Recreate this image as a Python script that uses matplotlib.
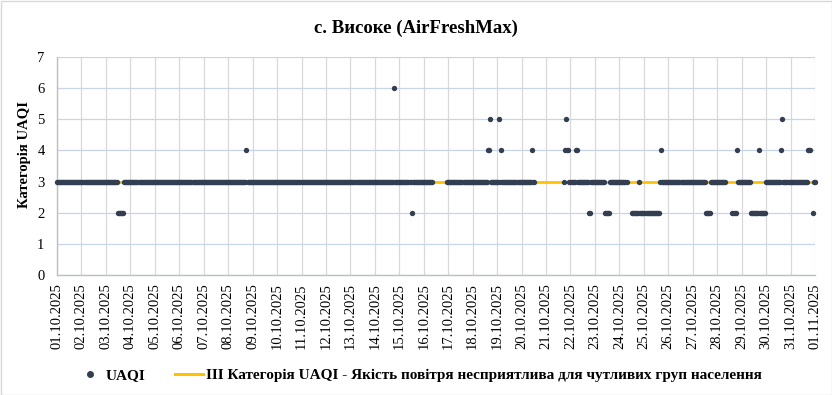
import matplotlib
matplotlib.use("Agg")
import matplotlib.dates as mdates
import matplotlib.pyplot as plt
import numpy as np
import pandas as pd
from matplotlib.lines import Line2D
from matplotlib.patches import Rectangle

START = "2025-10-01 00:00"
END = "2025-11-01 00:00"

# hourly UAQI category, as runs (first hour, last hour, category);
# hours are counted from 01.10.2025 00:00, hours not covered by a run had no data
RUN_FIRST = [0, 60, 66, 186, 187, 331, 332, 348, 349,
             383, 423, 425, 426, 434, 435, 436, 437, 466, 467,
             498, 499, 500, 501, 503, 509, 511, 522, 524, 538, 543,
             564, 571, 572, 578, 592, 593, 594, 637, 642,
             663, 667, 668, 681, 689, 690, 696, 711, 712, 713, 737,
             742, 743]
RUN_LAST = [59, 65, 185, 186, 330, 331, 347, 348, 368,
            422, 424, 425, 433, 434, 435, 436, 465, 466, 468,
            498, 499, 500, 502, 508, 510, 521, 523, 537, 542, 559,
            570, 571, 576, 591, 592, 593, 636, 641, 656,
            666, 667, 680, 688, 689, 695, 710, 711, 712, 736, 739,
            742, 744]
RUN_CAT = [3, 2, 3, 4, 3, 6, 3, 2, 3,
           3, 4, 5, 3, 5, 3, 4, 3, 4, 3,
           3, 4, 5, 4, 3, 4, 3, 2, 3, 2, 3,
           2, 3, 2, 2, 3, 4, 3, 2, 3,
           2, 4, 3, 2, 4, 2, 3, 4, 5, 3, 4,
           2, 3]

GUIDE_LEVEL = 3
SERIES_LABEL = "UAQI"
GUIDE_LABEL = "III Категорія UAQI - Якість повітря несприятлива для чутливих груп населення"
TITLE = "с. Високе (AirFreshMax)"
Y_LABEL = "Категорія UAQI"

DOT_COLOR = "#333F50"
GUIDE_COLOR = "#FFC000"
SERIF = "Liberation Serif"

plt.rcParams["font.family"] = [SERIF, "DejaVu Serif"]

hours = np.concatenate([np.arange(a, b + 1) for a, b in zip(RUN_FIRST, RUN_LAST)])
cats = np.concatenate([np.full(b - a + 1, c) for a, b, c in zip(RUN_FIRST, RUN_LAST, RUN_CAT)])
times = pd.Timestamp(START) + pd.to_timedelta(hours, unit="h")
t0, t1 = pd.Timestamp(START), pd.Timestamp(END)

fig = plt.figure(figsize=(8.32, 3.95), dpi=100)
ax = fig.add_axes([57 / 832, 1 - 275 / 395, 758 / 832, 218 / 395])

ax.plot([t0, t1], [GUIDE_LEVEL, GUIDE_LEVEL], color=GUIDE_COLOR, lw=1.9,
        solid_capstyle="butt", zorder=2)
ax.scatter(times, cats, s=15, color=DOT_COLOR, linewidths=0, zorder=3, clip_on=False)

ax.set_xlim(t0, t1)
ax.set_ylim(0, 7)
ax.set_yticks(range(0, 8))
ax.xaxis.set_major_locator(mdates.DayLocator())
ax.xaxis.set_major_formatter(mdates.DateFormatter("%d.%m.%Y"))
ax.tick_params(axis="x", length=0, pad=6, labelsize=10.5, labelrotation=90)
ax.tick_params(axis="y", length=0, pad=9, labelsize=10.5)

ax.grid(True, axis="x", color="#D9D9D9", lw=0.9, zorder=0)
ax.grid(True, axis="y", color="#C9D4E8", lw=0.9, zorder=0)
ax.set_axisbelow(True)
for side in ("top", "right"):
    ax.spines[side].set_visible(False)
for side in ("left", "bottom"):
    ax.spines[side].set_color("#BFBFBF")
    ax.spines[side].set_linewidth(1.0)

fig.text(0.5, 1 - 28 / 395, TITLE, ha="center", va="center", fontsize=13.5, fontweight="bold")
fig.text(24 / 832, 1 - 155 / 395, Y_LABEL, ha="center", va="center", rotation=90,
         fontsize=10.5, fontweight="bold")

handles = [
    Line2D([], [], marker="o", ls="none", color=DOT_COLOR, markersize=4),
    Line2D([], [], color=GUIDE_COLOR, lw=2.2),
]
fig.legend(handles, [SERIES_LABEL, GUIDE_LABEL], loc="center", bbox_to_anchor=(418.5 / 832, 1 - 375 / 395),
           ncol=2, frameon=False, handlelength=1.83, columnspacing=1.95, handletextpad=0.15,
           borderpad=0, prop={"family": SERIF, "weight": "bold", "size": 11})

fig.add_artist(Rectangle((0.5 / 832, 0.5 / 395), 831 / 832, 394 / 395, transform=fig.transFigure,
                         fill=False, ec="#D9D9D9", lw=1.0))

fig.savefig("out.png", dpi=100)
